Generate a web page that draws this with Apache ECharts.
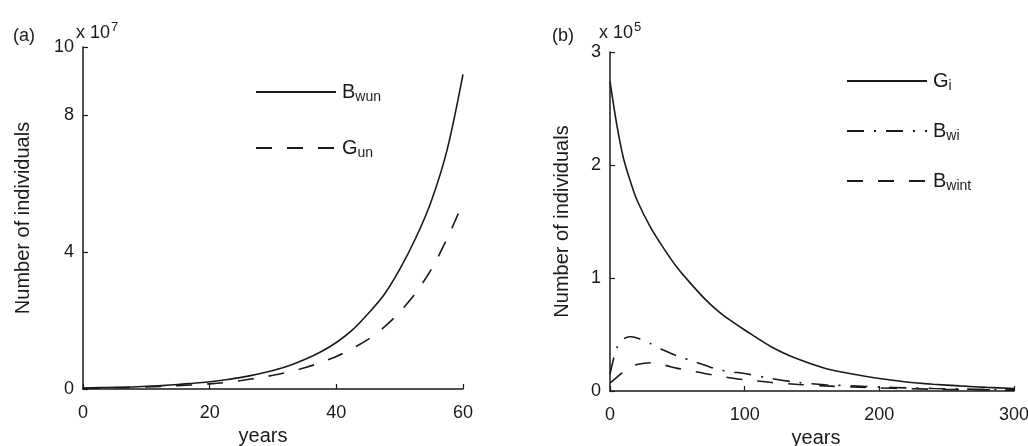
<!DOCTYPE html>
<html>
<head>
<meta charset="utf-8">
<script src="https://cdn.jsdelivr.net/npm/echarts@6/dist/echarts.min.js"></script>
<style>
html,body{margin:0;padding:0;background:#fff;}
#chart{width:1028px;height:446px;}
</style>
</head>
<body>
<div id="chart"></div>
<script>
// Panel (a): years and values (x 10^7)
const yearsA = [0, 2.5, 5, 7.5, 10, 12.5, 15, 17.5, 20, 22.5, 25, 27.5, 30, 32.5, 35, 37.5, 40, 42.5, 45, 47.5, 50, 52.5, 55, 57.5, 60];
const bwun   = [0.03, 0.04, 0.05, 0.06, 0.08, 0.1, 0.13, 0.17, 0.21, 0.27, 0.34, 0.43, 0.54, 0.68, 0.86, 1.08, 1.36, 1.72, 2.2, 2.75, 3.5, 4.4, 5.5, 7.0, 9.2];
const gun    = [0.02, 0.025, 0.035, 0.045, 0.06, 0.075, 0.1, 0.12, 0.15, 0.19, 0.25, 0.32, 0.4, 0.5, 0.62, 0.77, 0.95, 1.18, 1.45, 1.8, 2.25, 2.8, 3.5, 4.4, 5.45];
// Panel (b): years and values (x 10^5)
const yearsB = [0, 5, 10, 15, 20, 30, 40, 50, 60, 70, 80, 90, 100, 120, 140, 160, 180, 200, 220, 240, 260, 280, 300];
const gi     = [2.74, 2.36, 2.06, 1.86, 1.69, 1.45, 1.26, 1.09, 0.95, 0.82, 0.71, 0.62, 0.54, 0.39, 0.28, 0.2, 0.15, 0.11, 0.08, 0.06, 0.045, 0.032, 0.022];
const bwi    = [0.15, 0.38, 0.46, 0.48, 0.47, 0.42, 0.36, 0.31, 0.27, 0.23, 0.19, 0.17, 0.155, 0.11, 0.075, 0.055, 0.045, 0.035, 0.028, 0.022, 0.018, 0.014, 0.012];
const bwint  = [0.07, 0.12, 0.17, 0.21, 0.235, 0.25, 0.23, 0.2, 0.18, 0.155, 0.135, 0.115, 0.1, 0.075, 0.058, 0.045, 0.035, 0.027, 0.021, 0.016, 0.012, 0.01, 0.008];
// Tick labels
const xTicksA = [0, 20, 40, 60];
const yTicksA = [0, 4, 8, 10];
const xTicksB = [0, 100, 200, 300];
const yTicksB = [0, 1, 2, 3];

const pair = (xs, ys) => xs.map((x, i) => [x, ys[i]]);
const FONT = "'Liberation Sans', Arial, Helvetica, sans-serif";
const INK = '#1a1a1a';

function xAxisDef(gi, ticks) {
  return {
    gridIndex: gi, type: 'value', min: ticks[0], max: ticks[ticks.length - 1],
    interval: ticks[1] - ticks[0],
    name: 'years', nameLocation: 'middle', nameGap: 37,
    nameTextStyle: {fontFamily: FONT, fontSize: 20, color: INK, padding: gi === 0 ? [0, 20, 0, 0] : [0, 0, 0, 8]},
    axisLine: {show: true, lineStyle: {color: INK, width: 1.5}},
    axisTick: {show: true, inside: true, length: 5, lineStyle: {color: INK, width: 1.2}},
    axisLabel: {fontFamily: FONT, fontSize: 18, color: INK, margin: 15},
    splitLine: {show: false}
  };
}
function yAxisDef(gi, ticks, gap) {
  return {
    gridIndex: gi, type: 'value', min: ticks[0], max: ticks[ticks.length - 1],
    name: 'Number of individuals', nameLocation: 'middle', nameGap: gap, nameRotate: 90,
    nameTextStyle: {fontFamily: FONT, fontSize: 20, color: INK},
    axisLine: {show: true, lineStyle: {color: INK, width: 1.5}},
    axisTick: {show: true, inside: true, length: 5, customValues: ticks, lineStyle: {color: INK, width: 1.2}},
    axisLabel: {fontFamily: FONT, fontSize: 18, color: INK, margin: 9, customValues: ticks},
    splitLine: {show: false}
  };
}
const richLeg = {
  b: {fontFamily: FONT, fontSize: 20, color: INK},
  s: {fontFamily: FONT, fontSize: 14, color: INK, padding: [10, 0, 0, 0]}
};
const richSup = {
  n: {fontFamily: FONT, fontSize: 18, fontWeight: 'normal', color: INK},
  s: {fontFamily: FONT, fontSize: 13, fontWeight: 'normal', color: INK, padding: [0, 0, 12, 1]}
};
const lineS = (w, type) => ({color: INK, width: w, type: type});
const legendCommon = {
  orient: 'vertical', itemWidth: 80, itemHeight: 14,
  itemStyle: {opacity: 0},
  textStyle: {rich: richLeg, padding: [0, 0, 0, 1]}
};

const option = {
  animation: false,
  backgroundColor: '#fff',
  color: [INK, INK, INK, INK, INK],
  title: [
    {text: '(a)', left: 8, top: 22, textStyle: {fontFamily: FONT, fontSize: 18, fontWeight: 'normal', color: INK}},
    {text: '{n|x 10}{s|7}', left: 71, top: 16, textStyle: {fontWeight: 'normal', rich: richSup}},
    {text: '(b)', left: 547, top: 22, textStyle: {fontFamily: FONT, fontSize: 18, fontWeight: 'normal', color: INK}},
    {text: '{n|x 10}{s|5}', left: 594, top: 16, textStyle: {fontWeight: 'normal', rich: richSup}}
  ],
  grid: [
    {left: 83, top: 47, width: 380, height: 342, outerBoundsMode: 'none', containLabel: false},
    {left: 610, top: 52, width: 404, height: 339, outerBoundsMode: 'none', containLabel: false}
  ],
  xAxis: [xAxisDef(0, xTicksA), xAxisDef(1, xTicksB)],
  yAxis: [yAxisDef(0, yTicksA, 50), yAxisDef(1, yTicksB, 38)],
  legend: [
    Object.assign({}, legendCommon, {
      left: 250, top: 77, itemGap: 34,
      data: ['Bwun', 'Gun'],
      formatter: n => n === 'Bwun' ? '{b|B}{s|wun}' : '{b|G}{s|un}'
    }),
    Object.assign({}, legendCommon, {
      left: 841, top: 66, itemGap: 28,
      data: ['Gi', 'Bwi', 'Bwint'],
      formatter: n => n === 'Gi' ? '{b|G}{s|i}' : (n === 'Bwi' ? '{b|B}{s|wi}' : '{b|B}{s|wint}')
    })
  ],
  series: [
    {name: 'Bwun', type: 'line', xAxisIndex: 0, yAxisIndex: 0, data: pair(yearsA, bwun), symbol: 'none', smooth: 0.3, lineStyle: lineS(1.6, 'solid')},
    {name: 'Gun', type: 'line', xAxisIndex: 0, yAxisIndex: 0, data: pair(yearsA, gun), symbol: 'none', smooth: 0.3, lineStyle: lineS(1.6, [16, 15])},
    {name: 'Gi', type: 'line', xAxisIndex: 1, yAxisIndex: 1, data: pair(yearsB, gi), symbol: 'none', smooth: 0.3, lineStyle: lineS(1.6, 'solid')},
    {name: 'Bwi', type: 'line', xAxisIndex: 1, yAxisIndex: 1, data: pair(yearsB, bwi), symbol: 'none', smooth: 0.3, lineStyle: lineS(1.6, [17, 10, 2, 10])},
    {name: 'Bwint', type: 'line', xAxisIndex: 1, yAxisIndex: 1, data: pair(yearsB, bwint), symbol: 'none', smooth: 0.3, lineStyle: lineS(1.6, [16, 15])}
  ]
};
const chart = echarts.init(document.getElementById('chart'), null, {renderer: 'canvas'});
chart.setOption(option);
</script>
</body>
</html>
